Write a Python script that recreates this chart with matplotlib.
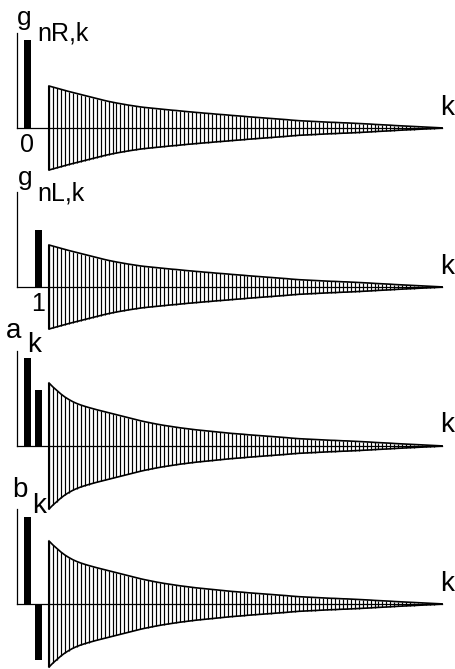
import matplotlib
matplotlib.use("Agg")
import matplotlib.pyplot as plt

# ---------------- data (arbitrary amplitude units) ----------------
k_bars_R = [0]
g_R_bars = [88]
k_bars_L = [1]
g_L_bars = [57]
k_bars_a = [0, 1]
a_bars = [88, 56]
k_bars_b = [0, 1]
b_bars = [87, -56]

k_tail = list(range(1, 101))
# envelope of the tail for g_nR,k and g_nL,k
tail_g = [42.0, 40.9, 39.8, 38.7, 37.6, 36.5, 35.5, 34.5, 33.5, 32.5,
          31.5, 30.5, 29.5, 28.5, 27.5, 26.6, 25.8, 25.0, 24.3, 23.6,
          22.9, 22.3, 21.7, 21.1, 20.6, 20.2, 19.8, 19.4, 19.0, 18.6,
          18.2, 17.8, 17.5, 17.1, 16.7, 16.3, 16.0, 15.6, 15.3, 14.9,
          14.6, 14.3, 13.9, 13.6, 13.3, 13.0, 12.6, 12.3, 12.0, 11.7,
          11.3, 11.0, 10.7, 10.4, 10.1, 9.8, 9.5, 9.2, 8.9, 8.6,
          8.3, 7.9, 7.6, 7.3, 7.1, 6.9, 6.7, 6.5, 6.3, 6.1,
          5.9, 5.7, 5.6, 5.4, 5.2, 5.1, 4.9, 4.7, 4.5, 4.3,
          4.1, 3.9, 3.6, 3.4, 3.2, 3.0, 2.8, 2.5, 2.3, 2.1,
          1.9, 1.7, 1.5, 1.3, 1.1, 0.9, 0.7, 0.5, 0.3, 0.1]
# envelope of the tail for a_k and b_k
tail_ab = [63.0, 59.0, 55.5, 52.0, 49.0, 46.5, 44.3, 42.5, 41.0, 39.7,
           38.5, 37.4, 36.3, 35.3, 34.3, 33.3, 32.3, 31.3, 30.3, 29.3,
           28.3, 27.3, 26.3, 25.3, 24.4, 23.6, 22.8, 22.0, 21.3, 20.6,
           20.0, 19.4, 18.8, 18.2, 17.7, 17.2, 16.7, 16.2, 15.8, 15.4,
           15.0, 14.6, 14.2, 13.8, 13.4, 13.0, 12.6, 12.3, 12.0, 11.7,
           11.3, 11.0, 10.7, 10.4, 10.1, 9.8, 9.5, 9.2, 8.9, 8.6,
           8.3, 7.9, 7.6, 7.3, 7.1, 6.9, 6.7, 6.5, 6.3, 6.1,
           5.9, 5.7, 5.6, 5.4, 5.2, 5.1, 4.9, 4.7, 4.5, 4.3,
           4.1, 3.9, 3.6, 3.4, 3.2, 3.0, 2.8, 2.5, 2.3, 2.1,
           1.9, 1.7, 1.5, 1.3, 1.1, 0.9, 0.7, 0.5, 0.3, 0.1]
axis_top = 95
tick_labels = {0: "0", 1: "1"}

# ---------------- layout ----------------
W, H = 456, 669
fig = plt.figure(figsize=(W / 100, H / 100), dpi=100)
FONT = "Liberation Sans"


def px_axes(x0, y0, x1, y1):
    ax = fig.add_axes([x0 / W, 1 - y1 / H, (x1 - x0) / W, (y1 - y0) / H])
    ax.set_axis_off()
    ax.patch.set_alpha(0)
    return ax


def ptext(x, y, s, size, ha="left", va="baseline"):
    fig.text(x / W, 1 - y / H, s, fontsize=size, ha=ha, va=va,
             family=FONT, color="black")


def panel(base, kb, vb, tail):
    y0, y1 = base - 100, base + 66
    # left part: axis and main coefficients
    axl = px_axes(17, y0, 49, y1)
    axl.set_xlim(-0.955, 1.955)
    axl.set_ylim(-66, 100)
    xl, xr = axl.get_xlim()
    axl.plot([xl, xl], [0, axis_top], color="black", lw=0.9, clip_on=False)
    axl.plot([xl, xr], [0, 0], color="black", lw=0.9, clip_on=False)
    axl.bar(kb, vb, width=0.55, color="black", clip_on=False)
    # right part: decaying tail
    axr = px_axes(49, y0, 442, y1)
    axr.set_xlim(1, 100)
    axr.set_ylim(-66, 100)
    neg = [-v for v in tail]
    axr.vlines(k_tail, neg, tail, color="black", lw=0.85, clip_on=False)
    axr.plot(k_tail, tail, color="black", lw=1.2, clip_on=False)
    axr.plot(k_tail, neg, color="black", lw=1.2, clip_on=False)
    axr.vlines([k_tail[0]], [neg[0]], [tail[0]], color="black", lw=1.5,
               clip_on=False)
    axr.plot([1, 100], [0, 0], color="black", lw=0.9, clip_on=False)
    return axl


panel(128, k_bars_R, g_R_bars, tail_g)
panel(287, k_bars_L, g_L_bars, tail_g)
panel(446, k_bars_a, a_bars, tail_ab)
panel(604, k_bars_b, b_bars, tail_ab)

# labels
ptext(17, 25, "g", 19)
ptext(37, 41, "nR,k", 18)
ptext(27.5, 133, tick_labels[0], 18, ha="center", va="top")
ptext(18, 185, "g", 19)
ptext(37, 201, "nL,k", 18)
ptext(38.5, 292, tick_labels[1], 18, ha="center", va="top")
ptext(6, 338, "a", 20)
ptext(27, 352, "k", 20)
ptext(12, 497, "b", 20)
ptext(32, 513, "k", 20)
for yb in (115, 274, 432, 591):
    ptext(440, yb, "k", 20)

fig.savefig("out.png", dpi=100)
